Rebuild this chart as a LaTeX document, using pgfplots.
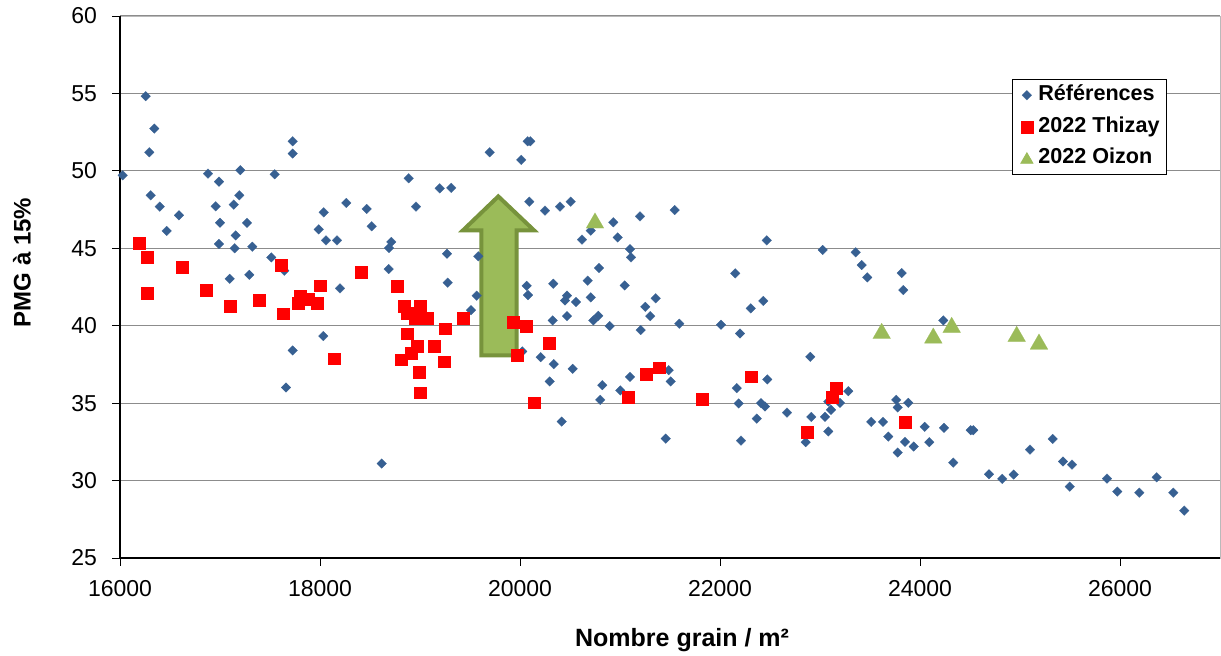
\documentclass[border=0pt]{standalone}
\usepackage{fontspec}
\setmainfont{Liberation Sans}
\usepackage{pgfplots}
\pgfplotsset{compat=1.18}
\definecolor{refblue}{HTML}{376092}
\definecolor{olivefill}{HTML}{9BBB59}
\definecolor{olivedraw}{HTML}{77933C}
\definecolor{gridgray}{HTML}{8C8C8C}
\pgfplotsset{myleg/.style={legend image code/.code={\draw[##1] plot coordinates {(0bp,0bp)}; \path (-10.5bp,0bp) (8bp,0bp);}}}
\begin{document}
\begin{tikzpicture}
\useasboundingbox (-120bp,-98bp) rectangle (1101bp,558bp);
\begin{axis}[
  scale only axis, width=1100bp, height=542bp,
  xmin=16000, xmax=27000, ymin=25, ymax=60,
  xtick={16000,18000,...,26000}, ytick={25,30,...,60},
  scaled x ticks=false, scaled y ticks=false,
  /pgf/number format/assume math mode=true,
  /pgf/number format/set thousands separator={},
  ticklabel style={font=\fontsize{23bp}{26bp}\selectfont},
  xticklabel style={yshift=-11bp},
  yticklabel style={xshift=-12bp},
  tick align=outside, xtick pos=bottom, ytick pos=left,
  major tick length=7.5bp,
  tick style={black, line width=0.8bp},
  axis line style={draw=gridgray!60, line width=0.8bp},
  ymajorgrids, major grid style={gridgray, line width=1bp},
  clip=false,
  xlabel={\textbf{Nombre grain / m²}},
  ylabel={\textbf{PMG à 15\%}},
  label style={font=\fontsize{25bp}{28bp}\selectfont},
  xlabel style={at={(axis description cs:0.511,-0.1642)}, anchor=base},
  ylabel style={at={(axis description cs:-0.0891,0.545)}, anchor=center, font=\fontsize{24bp}{28bp}\selectfont},
  legend style={at={(rel axis cs:0.811,0.884)}, anchor=north west,
    draw=black, line width=0.8bp, fill=white,
    font=\fontsize{21.6bp}{24bp}\selectfont\bfseries,
    inner sep=3.5bp, row sep=6.5bp,
    nodes={text height=16bp, text depth=5bp, inner ysep=2bp, inner xsep=3bp}},
  legend cell align=left,
]
\addplot[only marks, mark=square*, mark size=3.4bp, mark options={rotate=45, fill=refblue, draw=refblue, line width=0.2bp}, myleg] coordinates {
(16027,49.71) (16257,54.82) (16343,52.73) (16293,51.20) (16307,48.42)
(16397,47.69) (16467,46.12) (16590,47.13) (16880,49.82) (16990,49.30)
(16957,47.71) (17000,46.65) (16990,45.28) (17203,50.04) (17193,48.42)
(17137,47.82) (17270,46.64) (17157,45.83) (17147,45.00) (17323,45.10)
(17097,43.03) (17293,43.29) (17513,44.41) (17643,43.55) (17547,49.78)
(17727,51.91) (17727,51.12) (17987,46.22) (18037,47.32) (18060,45.51)
(18170,45.51) (18200,42.41) (18263,47.93) (18467,47.54) (18517,46.42)
(18690,45.02) (18713,45.41) (18687,43.66) (18887,49.52) (18960,47.69)
(19197,48.87) (19313,48.90) (19270,44.65) (19277,42.78) (18033,39.33)
(17727,38.40) (17660,36.01) (18617,31.10) (19697,51.20) (20013,50.71)
(20077,51.91) (20103,51.91) (20093,48.01) (20250,47.43) (20400,47.69)
(20507,48.01) (20933,46.68) (21200,47.06) (21547,47.47) (20620,45.56)
(20707,46.14) (20977,45.70) (21100,44.95) (21110,44.41) (22467,45.51)
(22153,43.38) (19583,44.48) (19567,41.94) (20067,42.58) (20080,41.98)
(20333,42.71) (20470,41.94) (20450,41.63) (20560,41.53) (20677,42.91)
(20790,43.73) (20707,41.83) (21047,42.60) (21357,41.77) (22433,41.60)
(19510,41.01) (21253,41.22) (21303,40.62) (20783,40.64) (20733,40.34)
(20327,40.34) (20470,40.62) (20897,39.98) (21207,39.72) (21593,40.13)
(22010,40.06) (22200,39.50) (22307,41.12) (20023,38.34) (20207,37.97)
(20337,37.52) (20527,37.22) (20297,36.40) (20417,33.81) (20823,36.16)
(20803,35.21) (21003,35.82) (21100,36.70) (21487,37.13) (21507,36.40)
(21457,32.71) (22167,35.97) (22187,34.98) (22210,32.58) (22473,36.53)
(22410,35.00) (22450,34.78) (22367,34.00) (22670,34.39) (23473,43.12)
(23817,43.40) (23833,42.30) (24233,40.34) (22903,37.99) (23283,35.77)
(23083,35.10) (23200,35.02) (23110,34.57) (22913,34.11) (23050,34.11)
(23083,33.17) (22857,32.48) (23763,35.21) (23883,35.02) (23777,34.72)
(23513,33.79) (23630,33.79) (23683,32.84) (23850,32.50) (23937,32.20)
(23777,31.81) (24047,33.47) (24093,32.48) (24240,33.40) (24333,31.16)
(24507,33.25) (24533,33.25) (24690,30.41) (24823,30.11) (24937,30.39)
(25100,32.00) (25327,32.69) (25430,31.23) (25520,31.03) (25497,29.61)
(25870,30.13) (25973,29.29) (26193,29.22) (26367,30.21) (26533,29.22)
(26643,28.06) (23027,44.89) (23357,44.74) (23417,43.92)
};
\addlegendentry{Références}
\addplot[only marks, mark=square*, mark size=5.9bp, mark options={fill=red, draw=red, line width=0.1bp}, myleg] coordinates {
(16187,45.32) (16270,44.41) (16617,43.81) (16270,42.11) (16860,42.32)
(17610,43.90) (18000,42.60) (18407,43.44) (18770,42.54) (17097,41.29)
(17393,41.68) (17627,40.79) (17800,41.94) (17777,41.44) (17877,41.72)
(17973,41.44) (18137,37.88) (18840,41.29) (18870,40.82) (18997,41.29)
(18953,40.49) (19067,40.49) (18867,39.50) (18973,38.70) (19137,38.70)
(18907,38.21) (18807,37.82) (18993,37.00) (19003,35.69) (19250,39.82)
(19237,37.69) (19427,40.49) (20057,40.00) (19967,38.10) (19930,40.26)
(20290,38.88) (20140,35.04) (21077,35.41) (21257,36.89) (21387,37.30)
(21817,35.28) (22307,36.72) (23160,35.97) (23117,35.41) (22867,33.12)
(23850,33.77)
};
\addlegendentry{2022 Thizay}
\addplot[only marks, mark=triangle*, mark size=10.3bp, mark options={fill=olivefill, draw=olivefill, line width=0.1bp, yshift=-2.6bp}, legend image code/.code={\draw[mark=triangle*, mark size=7bp, mark options={fill=olivefill, draw=olivefill}] plot coordinates {(0bp,-1.5bp)}; \path (-10.5bp,0bp) (8bp,0bp);}] coordinates {
(20750,46.80) (23617,39.67) (24133,39.37) (24317,40.06) (24967,39.48) (25190,38.98)
};
\addlegendentry{2022 Oizon}
\draw[draw=olivedraw, fill=olivefill, line width=4bp, line join=miter]
  (19783,48.35) -- (20140,46.16) -- (19967,46.16) -- (19967,38.08)
  -- (19613,38.08) -- (19613,46.16) -- (19430,46.16) -- cycle;
\draw[black, line width=1.2bp] (rel axis cs:0,1) -- (rel axis cs:0,0) -- (rel axis cs:1,0);
\end{axis}
\end{tikzpicture}
\end{document}
